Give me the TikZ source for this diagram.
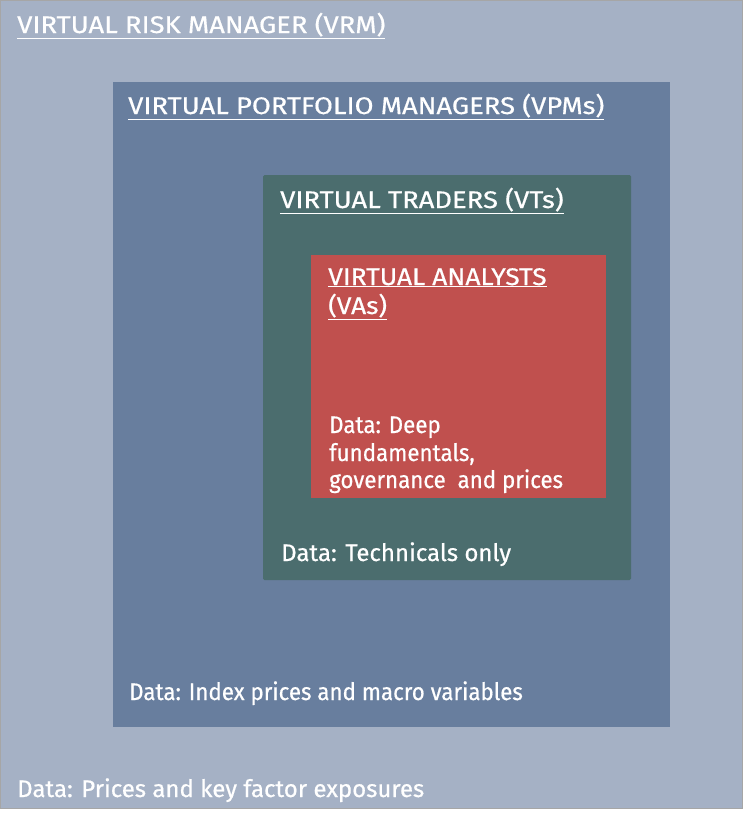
\documentclass[tikz,border=0pt]{standalone}
\usepackage{fontspec}
\setmainfont[FakeBold=0.6]{Fira Sans}
\newfontfamily\titlefont[FakeStretch=1.14,FakeBold=0.6]{Fira Sans}
\newfontfamily\titlefontb[FakeStretch=1.10,FakeBold=0.6]{Fira Sans}
\newfontfamily\narrowfont[FakeStretch=0.93,FakeBold=0.6]{Fira Sans}
\definecolor{vrmc}{HTML}{A5B1C5}
\definecolor{vpmc}{HTML}{687E9E}
\definecolor{vtc}{HTML}{4B6D6E}
\definecolor{vac}{HTML}{C0504E}
\begin{document}
\begin{tikzpicture}[x=1pt,y=-1pt,
  lbl/.style={anchor=base west,inner sep=0pt,text=white,font=\fontsize{24}{28}\selectfont},
  ttl/.style={lbl,font=\fontsize{24}{28}\selectfont\titlefont},
  ttlb/.style={lbl,font=\fontsize{24}{28}\selectfont\titlefontb},
  nar/.style={lbl,font=\fontsize{24}{28}\selectfont\narrowfont},
  boxv/.style={rounded corners=1.5pt}]
\useasboundingbox (0,0) rectangle (743,817);
\fill[white] (0,0) rectangle (743,817);
\filldraw[fill=vrmc,draw=gray!70,line width=0.6pt] (0.3,0.3) rectangle (742.3,808);
\fill[vpmc] (113,82) rectangle (670,727);
\fill[vtc,boxv] (263,175) rectangle (631,580);
\fill[vac] (311,255) rectangle (606,498);
\node[ttl] (t1) at (17,33) {\underline{VIRTUAL RISK MANAGER (VRM)}};
\node[ttl] (t2) at (128,114) {\underline{VIRTUAL PORTFOLIO MANAGERS (VPMs)}};
\node[ttl] (t3) at (280,208) {\underline{VIRTUAL TRADERS (VTs)}};
\node[ttlb] (t4a) at (328,285) {\underline{VIRTUAL ANALYSTS}};
\node[ttlb] (t4b) at (328,314) {\underline{(VAs)}};
\node[nar] (d4a) at (329,433) {Data: Deep};
\node[nar] (d4b) at (329,461) {fundamentals,};
\node[nar] (d4c) at (329,488) {governance\ \ and prices};
\node[lbl] (d3) at (281,561) {Data: Technicals only};
\node[nar] (d2) at (129,700) {Data: Index prices and macro variables};
\node[lbl] (d1) at (17,797) {Data: Prices and key factor exposures};
\end{tikzpicture}
\end{document}
